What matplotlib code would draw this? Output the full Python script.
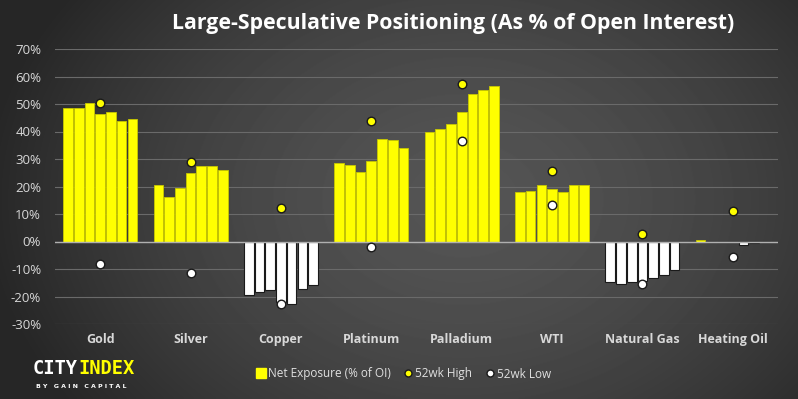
import numpy as np
import matplotlib
matplotlib.use("Agg")
import matplotlib.pyplot as plt
from matplotlib.lines import Line2D

categories = ["Gold", "Silver", "Copper", "Platinum", "Palladium", "WTI", "Natural Gas", "Heating Oil"]
gold = [48.6, 48.6, 50.4, 46.4, 47.1, 43.8, 44.5]
silver = [20.4, 16.3, 19.3, 24.8, 27.3, 27.3, 26.1]
copper = [-19.6, -18.5, -17.6, -22.0, -22.9, -17.3, -15.9]
platinum = [28.7, 27.7, 25.2, 29.2, 37.3, 36.8, 33.9]
palladium = [39.8, 40.9, 42.6, 47.1, 53.8, 55.2, 56.6]
wti = [17.9, 18.2, 20.4, 19.2, 18.1, 20.4, 20.4]
natgas = [-14.9, -15.6, -14.9, -14.4, -13.4, -12.3, -10.5]
heating = [0.4, -0.2, -0.2, -0.2, -1.3, -0.6, -0.2]
high_52wk = [50.5, 29.0, 12.3, 44.0, 57.2, 25.7, 2.8, 11.2]
low_52wk = [-8.2, -11.6, -22.9, -2.1, 36.7, 13.3, -15.5, -5.7]
yticks = [-30, -20, -10, 0, 10, 20, 30, 40, 50, 60, 70]

series = [gold, silver, copper, platinum, palladium, wti, natgas, heating]

W, H = 798, 399
fig = plt.figure(figsize=(W / 100, H / 100), dpi=100)

# radial gradient background
bg = fig.add_axes([0, 0, 1, 1], zorder=-10)
yy, xx = np.mgrid[0:H, 0:W]
r = np.sqrt(((xx - W * 0.58) / (W * 0.6)) ** 2 + ((yy - H * 0.5) / (H * 0.9)) ** 2)
val = np.clip(0.33 - 0.18 * r ** 1.6, 0.15, 0.34)
bg.imshow(val, cmap="gray", vmin=0, vmax=1, aspect="auto", interpolation="bilinear")
bg.axis("off")

ax = fig.add_axes([55 / W, 75 / H, 723 / W, 275 / H])
ax.set_facecolor("none")
ax.patch.set_alpha(0)

n = 7
group_w = 0.83
slot = group_w / n
bw = slot * 0.9
for i, vals in enumerate(series):
    for j, v in enumerate(vals):
        x = i - group_w / 2 + slot * (j + 0.5)
        if v >= 0:
            ax.bar(x, v, width=bw, color="#ffff00", edgecolor="#c8c800", linewidth=0.6, zorder=3)
        else:
            ax.bar(x, v, width=bw, color="#ffffff", edgecolor="#1a1a1a", linewidth=0.8, zorder=3)

xs = np.arange(len(categories))
ax.scatter(xs, high_52wk, s=38, color="#ffff00", edgecolor="#1a1a1a", linewidth=1.0, zorder=5)
ax.scatter(xs, low_52wk, s=38, color="#ffffff", edgecolor="#1a1a1a", linewidth=1.0, zorder=5)

ax.set_xlim(-0.5, len(categories) - 0.5)
ax.set_ylim(-30, 70)
ax.set_yticks(yticks)
ax.set_yticklabels([f"{t}%" for t in yticks])
ax.set_xticks([])
for t in yticks:
    ax.axhline(t, color="#6a6a6a", linewidth=0.8, zorder=1)
ax.axhline(0, color="#b0b0b0", linewidth=1.0, zorder=4)
for s in ax.spines.values():
    s.set_visible(False)
ax.tick_params(axis="y", length=0, colors="#d8d8d8", labelsize=9.5, pad=10)
for lab in ax.get_yticklabels():
    lab.set_fontfamily("Open Sans")

for i, c in enumerate(categories):
    ax.text(i, -35.5, c, ha="center", va="center", color="#d8d8d8", fontsize=9,
            fontweight="bold", family="Open Sans")

fig.text(453 / W, 1 - 24 / H, "Large-Speculative Positioning (As % of Open Interest)",
         ha="center", va="center", color="#ffffff", fontsize=15.3, fontweight="bold",
         family="Open Sans")

handles = [
    Line2D([], [], marker="s", linestyle="none", markersize=7, markerfacecolor="#ffff00",
           markeredgecolor="#ffff00"),
    Line2D([], [], marker="o", linestyle="none", markersize=5, markerfacecolor="#ffff00",
           markeredgecolor="#1a1a1a"),
    Line2D([], [], marker="o", linestyle="none", markersize=5, markerfacecolor="#ffffff",
           markeredgecolor="#1a1a1a"),
]
leg = fig.legend(handles, ["Net Exposure (% of OI)", "52wk High", "52wk Low"],
                 loc="center", bbox_to_anchor=(403 / W, 1 - 374 / H), ncol=3, frameon=False,
                 handletextpad=0.1, columnspacing=1.0, handlelength=1.0,
                 prop={"family": "Open Sans", "size": 8.5})
for t in leg.get_texts():
    t.set_color("#e0e0e0")

# logo
fig.text(33 / W, 1 - 369 / H, "CITY", color="#ffffff", fontsize=13.5, family="DejaVu Sans Mono",
         ha="left", va="center", fontweight="bold")
fig.text(78 / W, 1 - 369 / H, "INDEX", color="#ffff00", fontsize=13.5, family="DejaVu Sans Mono",
         ha="left", va="center", fontweight="bold")
fig.text(36 / W, 1 - 387 / H, "B Y   G A I N   C A P I T A L", color="#ffffff", fontsize=4.5,
         family="DejaVu Sans", ha="left", va="center", fontweight="bold")

fig.savefig("out.png", dpi=100)
